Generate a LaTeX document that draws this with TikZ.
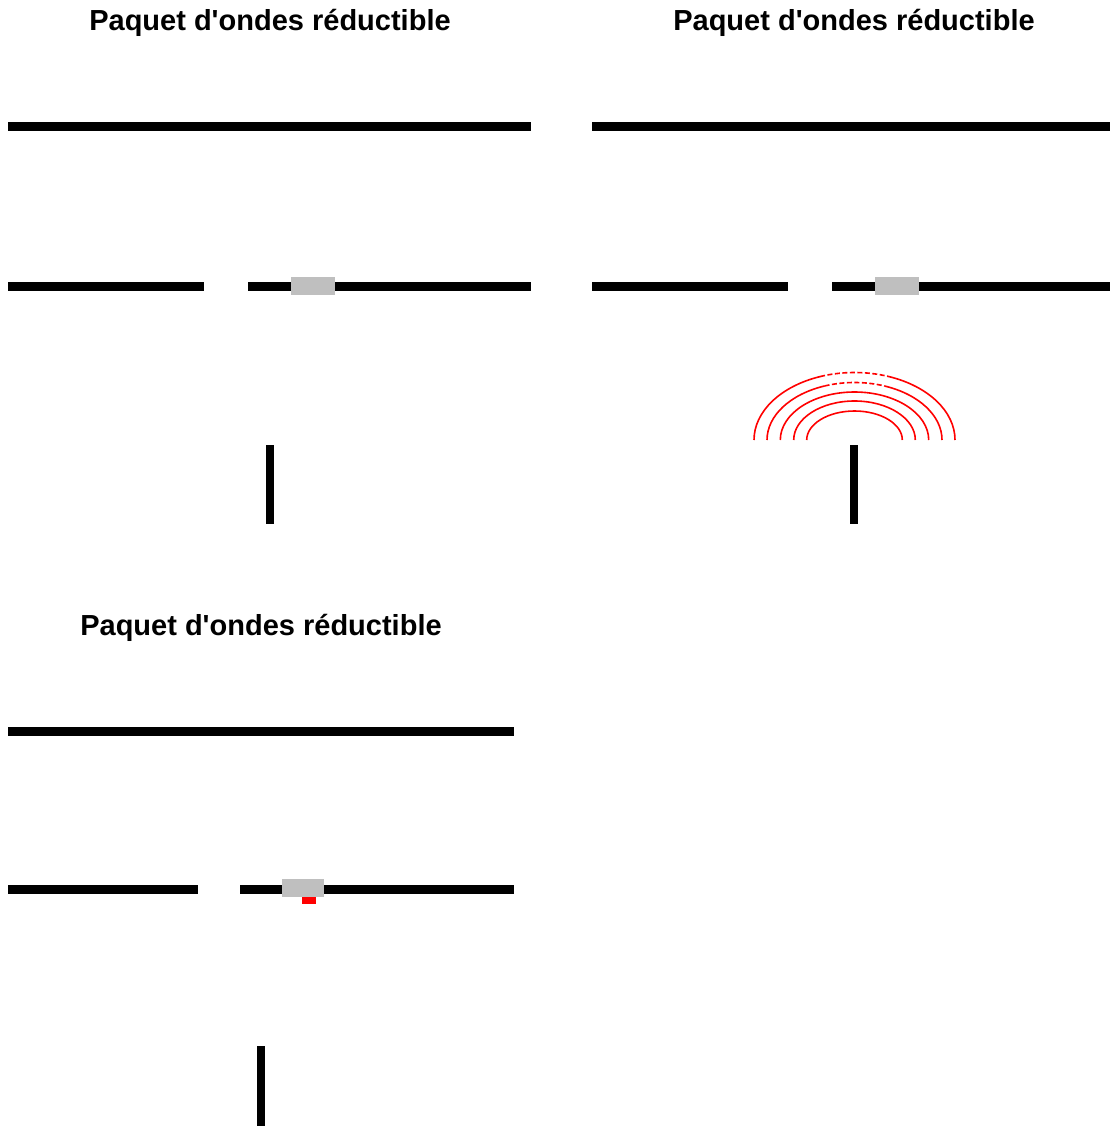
\documentclass[tikz,border=0pt]{standalone}
\usepackage{fontspec}
% plain family: keeps the straight apostrophe
\newfontfamily\titlefont{Liberation Sans}
\usetikzlibrary{calc}
\begin{document}
\begin{tikzpicture}[x=1pt,y=-1pt,
  wall/.style={line width=9pt},
  post/.style={line width=8pt},
  shutter/.style={fill=black!25,draw=none},
  title/.style={font=\titlefont\fontsize{29}{34}\selectfont\bfseries,anchor=base},
  wave/.style={red,line width=1.6pt},
  wavedash/.style={red,line width=1.6pt,dash pattern=on 5pt off 2.5pt}]
\useasboundingbox (0,0) rectangle (1110,1126);

% ---- panel A ----
\node[title] (tA) at (270,31) {Paquet d'ondes réductible};
\draw[wall] (8,127) coordinate (a1) -- (531,127) coordinate (a2);
\draw[wall] (8,286) coordinate (a3) -- (204,286) coordinate (a4);
\draw[wall] (248,286) coordinate (a5) -- (531,286) coordinate (a6);
\fill[shutter] (291,277) rectangle (335,295);
\draw[post] (270,445) coordinate (a7) -- (270,524) coordinate (a8);

% ---- panel B ----
\node[title] (tB) at (854,31) {Paquet d'ondes réductible};
\draw[wall] (592,127) coordinate (b1) -- (1110,127) coordinate (b2);
\draw[wall] (592,286) coordinate (b3) -- (788,286) coordinate (b4);
\draw[wall] (832,286) coordinate (b5) -- (1110,286) coordinate (b6);
\fill[shutter] (875,277) rectangle (919,295);
\draw[post] (854,445) coordinate (b7) -- (854,524) coordinate (b8);
\coordinate (src) at (854.5,440);
% emitted wave fronts (y axis points down, so negative y radius opens upward)
\foreach \a/\b in {47.8/29, 60.8/39, 74.2/48}
  \draw[wave] ($(src)+(-\a,0)$) arc[start angle=180,end angle=0,x radius=\a,y radius=-\b];
\foreach \a/\b in {87.5/57.5, 100.5/67.5}{
  \draw[wave] ($(src)+(-\a,0)$) arc[start angle=180,end angle=110,x radius=\a,y radius=-\b];
  \draw[wavedash] ($(src)+({\a*cos(110)},{-\b*sin(110)})$) arc[start angle=110,end angle=70,x radius=\a,y radius=-\b];
  \draw[wave] ($(src)+({\a*cos(70)},{-\b*sin(70)})$) arc[start angle=70,end angle=0,x radius=\a,y radius=-\b];
}

% ---- panel C ----
\node[title] (tC) at (261,635) {Paquet d'ondes réductible};
\draw[wall] (8,731) coordinate (c1) -- (514,731) coordinate (c2);
\draw[wall] (8,889) coordinate (c3) -- (198,889) coordinate (c4);
\draw[wall] (240,889) coordinate (c5) -- (514,889) coordinate (c6);
\fill[shutter] (282,879) rectangle (324,897);
\fill[red] (302,897) rectangle (316,904);
\draw[post] (261,1046) coordinate (c7) -- (261,1130) coordinate (c8);
\end{tikzpicture}
\end{document}
